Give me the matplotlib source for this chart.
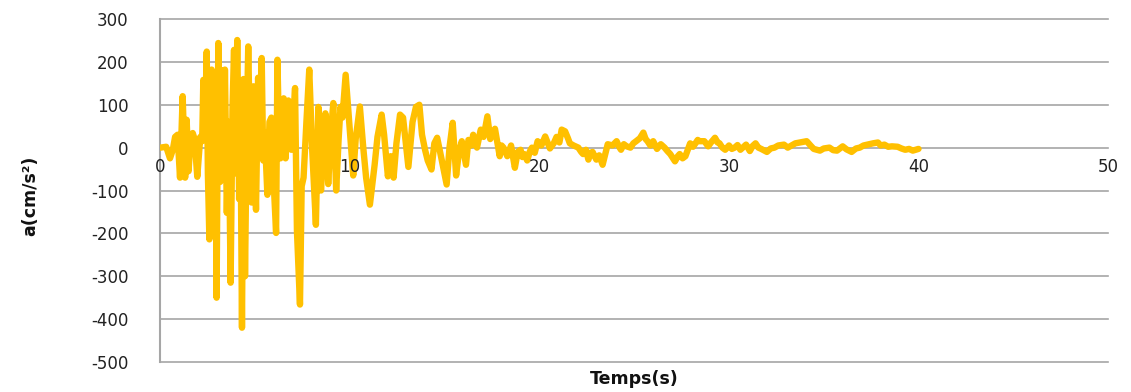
import matplotlib
matplotlib.use("Agg")
import matplotlib.pyplot as plt

# Accelerogram samples: time (s) and acceleration (cm/s2)
time_s = [
    0.0, 0.3, 0.5, 0.65, 0.77, 0.9, 1.03, 1.17, 1.3, 1.38, 1.48, 1.6, 1.7, 1.8,
    1.94, 2.1, 2.2, 2.26, 2.34, 2.44, 2.5, 2.58, 2.64, 2.7, 2.8, 2.88, 2.96,
    3.05, 3.1, 3.15, 3.25, 3.35, 3.4, 3.5, 3.6, 3.7, 3.8, 3.88, 3.95, 4.05,
    4.15, 4.22, 4.3, 4.38, 4.46, 4.55, 4.63, 4.72, 4.8, 4.9, 4.97, 5.04, 5.15,
    5.25, 5.34, 5.42, 5.5, 5.64, 5.75, 5.85, 5.95, 6.1, 6.17, 6.25, 6.33, 6.5,
    6.6, 6.75, 6.9, 7.0, 7.1, 7.2, 7.36, 7.45, 7.55, 7.7, 7.85, 8.0, 8.2, 8.33,
    8.47, 8.6, 8.7, 8.85, 9.0, 9.12, 9.27, 9.4, 9.5, 9.6, 9.77, 10.0, 10.17,
    10.3, 10.52, 10.7, 10.85, 11.05, 11.3, 11.45, 11.67, 11.8, 12.0, 12.15,
    12.3, 12.45, 12.64, 12.8, 13.08, 13.3, 13.48, 13.66, 13.8, 13.96, 14.1,
    14.3, 14.45, 14.6, 14.8, 15.1, 15.25, 15.42, 15.6, 15.75, 15.9, 16.12,
    16.25, 16.4, 16.5, 16.7, 16.9, 17.05, 17.25, 17.4, 17.65, 17.9, 18.0, 18.1,
    18.3, 18.5, 18.7, 18.85, 19.0, 19.1, 19.2, 19.35, 19.5, 19.6, 19.75, 19.9,
    20.1, 20.3, 20.55, 20.75, 20.9, 21.05, 21.17, 21.35, 21.5, 21.6, 21.8,
    22.05, 22.2, 22.3, 22.45, 22.58, 22.7, 22.8, 23.0, 23.15, 23.33, 23.6,
    23.85, 24.07, 24.2, 24.3, 24.45, 24.6, 24.8, 24.95, 25.1, 25.3, 25.48,
    25.6, 25.7, 25.85, 26.0, 26.2, 26.4, 26.6, 26.75, 26.9, 27.15, 27.3, 27.4,
    27.55, 27.7, 27.95, 28.1, 28.2, 28.35, 28.45, 28.7, 28.9, 29.05, 29.26,
    29.4, 29.5, 29.65, 29.8, 30.0, 30.15, 30.3, 30.45, 30.6, 30.9, 31.1, 31.25,
    31.4, 31.55, 31.7, 32.0, 32.2, 32.4, 32.6, 32.9, 33.1, 33.3, 33.5, 33.75,
    34.1, 34.3, 34.47, 34.8, 35.0, 35.3, 35.5, 35.7, 36.0, 36.2, 36.47, 36.7,
    36.9, 37.1, 37.3, 37.6, 37.86, 38.0, 38.2, 38.4, 38.6, 38.9, 39.1, 39.3,
    39.5, 39.7, 40.0,
]
accel = [
    0, 2, -25, -5, 25, 30, -70, 120, -70, 65, -55, 30, 34, 20,
    -68, 25, 15, 158, 40, 224, -60, -214, 60, 182, -20, 150, -350,
    244, -40, -80, 180, -40, 182, -152, 60, -315, 90, 228, -60, 251,
    -120, 60, -420, 160, -300, 40, 236, 20, -128, 143, -20, -145, 163,
    40, 209, -30, 35, -110, 60, 70, -60, -199, 205, 40, -25, 115,
    -25, 110, -5, 60, 139, -194, -366, -90, -70, 60, 182, 0, -180, 95,
    -100, 10, 80, -85, 40, 104, -100, 20, 95, 70, 170, 35, -65,
    20, 96, 0, -70, -133, -40, 25, 77, 30, -67, -20,
    -70, 10, 77, 70, -45, 60, 95, 100, 30, -5, -30,
    -51, 10, 23, -20, -86, 0, 58, -65, -10, 15, -40,
    18, 5, 30, 0, 42, 25, 73, 20, 44, -20, 5, 0,
    -20, 5, -47, -10, -5, -22, -15, -30, -8, 0, -12, 15,
    5, 26, -2, 10, 25, 12, 42, 38, 22, 10, 5,
    0, -10, -15, -5, -28, -12, -10, -28, -18, -40, 8,
    5, 15, 2, -5, 8, 3, 0, 10, 15, 22, 35,
    20, 15, 5, 15, -3, 8, 0, -8, -15, -32, -20, -15,
    -25, -20, 10, 2, 8, 18, 15, 15, 3, 12, 23,
    12, 10, 0, -5, 5, -3, 0, 6, -5, 7, -8, 4,
    10, 0, -3, -10, -2, 0, 5, 7, 0, 5, 10, 12,
    15, 5, -3, -7, -2, 0, -6, -7, 3, -4, -10, -2,
    0, 5, 7, 10, 12, 5, 7, 2, 3, 2, -2, -5,
    -3, -7, -3,
]

xticks = [0, 10, 20, 30, 40, 50]
yticks = [300, 200, 100, 0, -100, -200, -300, -400, -500]

W, H = 1131, 392
fig = plt.figure(figsize=(W / 100, H / 100), dpi=100)
ax = fig.add_axes([160.5 / W, 1 - 362 / H, (1108 - 160.5) / W, (362 - 19) / H])

grid_col = "#a6a6a6"
for y in yticks:
    ax.axhline(y, color=grid_col, linewidth=1.2, zorder=1, clip_on=False)

ax.plot(time_s, accel, color="#FFC000", linewidth=4.6, solid_joinstyle="round",
        solid_capstyle="round", zorder=3)

ax.set_xlim(0, 50)
ax.set_ylim(-500, 300)

for side in ["top", "right", "bottom"]:
    ax.spines[side].set_visible(False)
ax.spines["left"].set_color(grid_col)
ax.spines["left"].set_linewidth(1.5)

ax.set_yticks(yticks)
ax.set_yticklabels([str(v) for v in yticks])
ax.tick_params(axis="y", length=0, pad=23, labelsize=12, labelcolor="#222222")
ax.set_xticks([])

# x tick labels sit just below the zero line
for x in xticks:
    ax.annotate(str(x), xy=(x, 0), xytext=(0, -14), textcoords="offset points",
                ha="center", va="center", fontsize=12, color="#222222",
                annotation_clip=False)

fig.text(634 / W, 1 - 379 / H, "Temps(s)", ha="center", va="center",
         fontsize=12.5, fontweight="bold", color="#111111")
fig.text(30 / W, 1 - 196 / H, "a(cm/s²)", ha="center", va="center",
         rotation=90, fontsize=12.5, fontweight="bold", color="#111111")

fig.savefig("out.png", dpi=100)
